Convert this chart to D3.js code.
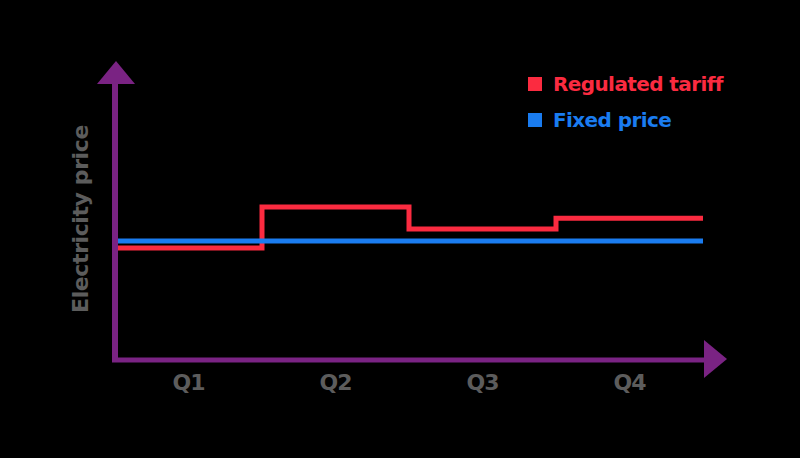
<!DOCTYPE html>
<html>
<head>
<script src="https://d3js.org/d3.v7.min.js"></script>
<style>
  body { margin: 0; background: #000; }
  svg { display: block; }
  text { font-family: "DejaVu Sans", sans-serif; font-weight: 700; }
</style>
</head>
<body>
<svg width="800" height="458"></svg>
<script>
// data
const quarters = ['Q1', 'Q2', 'Q3', 'Q4'];
const regulated = [40.6, 55.4, 47.5, 51.4];
const fixedPrice = [43.1, 43.1, 43.1, 43.1];
const seriesNames = ['Regulated tariff', 'Fixed price'];
const seriesColors = ['#fb2b40', '#1a7cf0'];

const svg = d3.select('svg');
const axisColor = '#7a2383';

const x = d3.scaleBand().domain(quarters).range([115, 703]);
const y = d3.scaleLinear().domain([0, 100]).range([360, 84]);

// step line: each quarter starts at its band start, last value carried to the end
function stepPoints(vals) {
  const pts = quarters.map((q, i) => [x(q), y(vals[i])]);
  pts.push([x.range()[1], y(vals[vals.length - 1])]);
  return pts;
}
const line = d3.line().curve(d3.curveStepAfter);

svg.append('path')
  .attr('d', line(stepPoints(regulated)))
  .attr('fill', 'none')
  .attr('stroke', seriesColors[0])
  .attr('stroke-width', 5);

svg.append('path')
  .attr('d', line(stepPoints(fixedPrice)))
  .attr('fill', 'none')
  .attr('stroke', seriesColors[1])
  .attr('stroke-width', 5);

// axes with arrow heads
svg.append('line')
  .attr('x1', 115).attr('y1', 360).attr('x2', 115).attr('y2', 82)
  .attr('stroke', axisColor).attr('stroke-width', 6);
svg.append('line')
  .attr('x1', 112).attr('y1', 360).attr('x2', 706).attr('y2', 360)
  .attr('stroke', axisColor).attr('stroke-width', 5);
svg.append('path')
  .attr('d', 'M97,84 L116,61 L135,84 Z')
  .attr('fill', axisColor);
svg.append('path')
  .attr('d', 'M704,340 L727,359 L704,378 Z')
  .attr('fill', axisColor);

// quarter labels
svg.selectAll('.qlab').data(quarters).enter().append('text')
  .attr('class', 'qlab')
  .attr('x', d => x(d) + x.bandwidth() / 2)
  .attr('y', 390)
  .attr('text-anchor', 'middle')
  .attr('fill', '#5c5c5c')
  .style('font-size', '22px')
  .style('letter-spacing', '-1px')
  .text(d => d);

svg.append('text')
  .attr('transform', 'translate(88,219) rotate(-90)')
  .attr('text-anchor', 'middle')
  .attr('fill', '#5c5c5c')
  .style('font-size', '22px')
  .style('letter-spacing', '-0.4px')
  .text('Electricity price');

// legend
const leg = svg.append('g').attr('transform', 'translate(528,77)');
seriesNames.forEach((name, i) => {
  leg.append('rect')
    .attr('x', 0).attr('y', i * 36)
    .attr('width', 14).attr('height', 14)
    .attr('fill', seriesColors[i]);
  leg.append('text')
    .attr('x', 25).attr('y', i * 36 + 14)
    .attr('fill', seriesColors[i])
    .style('font-size', '20px')
    .style('letter-spacing', '-0.6px')
    .text(name);
});
</script>
</body>
</html>
